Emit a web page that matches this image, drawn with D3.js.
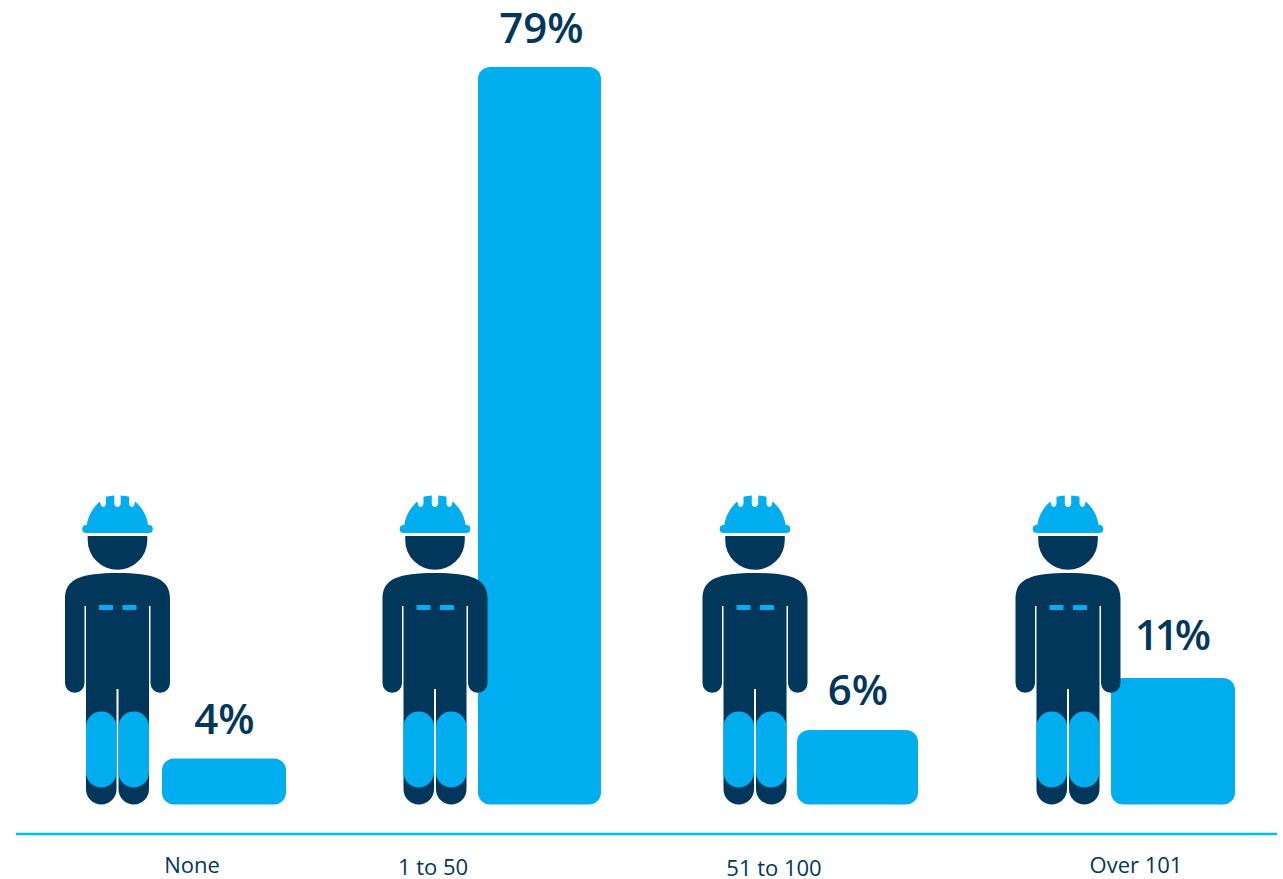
<!DOCTYPE html>
<html>
<head>
<meta charset="utf-8">
<style>
  html, body { margin: 0; padding: 0; background: #fff; }
  svg { display: block; }
  text { font-family: "Open Sans", "Noto Sans", sans-serif; }
</style>
<script src="https://cdn.jsdelivr.net/npm/d3@7/dist/d3.min.js"></script>
</head>
<body>
<svg id="chart" width="1283" height="879"></svg>
<script>
// Share of respondents by headcount band
const categories = ["None", "1 to 50", "51 to 100", "Over 101"];
const shares = [4, 79, 6, 11];
const shareLabels = ["4%", "79%", "6%", "11%"];

// Horizontal layout of each band
const barLefts = [162, 478, 797, 1111];
const barRights = [286, 601, 918, 1235];
const figureCentres = [117.5, 435, 755, 1068];
const shareLabelCentres = [224.5, 541.5, 858, 1171];
const shareLabelGaps = [25, 24, 25, 28];
const shareLabelTracking = [0, 0, 0, -4];
const categoryLabelCentres = [192, 433, 774, 1136];
const categoryBaselines = [873, 875, 876, 873];

const navy = "#01375b";
const cyan = "#00aeef";
const ruleCyan = "#00bdf6";

const svg = d3.select("#chart");
const left = d3.scaleOrdinal(categories, barLefts);
const right = d3.scaleOrdinal(categories, barRights);
const figureX = d3.scaleOrdinal(categories, figureCentres);
const shareX = d3.scaleOrdinal(categories, shareLabelCentres);
const shareGap = d3.scaleOrdinal(categories, shareLabelGaps);
const shareTracking = d3.scaleOrdinal(categories, shareLabelTracking);
const categoryX = d3.scaleOrdinal(categories, categoryLabelCentres);
const categoryY = d3.scaleOrdinal(categories, categoryBaselines);

// The bars are not to a single linear scale: small shares are drawn larger
const y = d3.scaleLinear().domain([0, 4, 6, 11, 79]).range([804.5, 758.5, 730, 678, 67]);

const rows = categories.map((c, i) => ({ category: c, share: shares[i], label: shareLabels[i] }));

// Hard-hat worker, origin at the foot line on the body's centre axis
const defs = svg.append("defs");
const worker = defs.append("g").attr("id", "worker");
worker.append("path").attr("fill", cyan).attr("d",
  "M-30.8,-277 C-30.4,-287 -25,-297 -17.5,-303 C-17,-299 -16,-297.6 -14.5,-297.6 C-12.8,-297.6 -11.7,-299 -11.5,-301" +
  "L-11.5,-307.8 C-9,-308.4 -6,-308.7 -3.2,-308.9 L-3.2,-301 C-3.2,-298.8 -1.6,-297.6 0,-297.6 C1.6,-297.6 3.2,-298.8 3.2,-301 L3.2,-308.9" +
  "C6,-308.7 9,-308.4 11.5,-307.8 L11.5,-301 C11.7,-299 12.8,-297.6 14.5,-297.6 C16,-297.6 17,-299 17.5,-303" +
  "C25,-297 30.4,-287 30.8,-277 Z");
worker.append("rect").attr("fill", cyan)
  .attr("x", -35.3).attr("y", -279.5).attr("width", 70.6).attr("height", 8).attr("rx", 4);
worker.append("path").attr("fill", navy)
  .attr("d", "M-29.8,-268.5 V-264.5 A29.8,29.8 0 0 0 29.8,-264.5 V-268.5 Z");
worker.append("path").attr("fill", navy).attr("d",
  "M-52.5,-206 C-52.5,-226 -36,-231.5 0,-231.5 C36,-231.5 52.5,-226 52.5,-206 V-121.5" +
  "A9.75,9.75 0 0 1 33,-121.5 V-198.5 H31.5 V-15.3 A15.25,15.25 0 0 1 1,-15.3 V-115.5 H-1 V-15.3" +
  "A15.25,15.25 0 0 1 -31.5,-15.3 V-198.5 H-33 V-121.5 A9.75,9.75 0 0 1 -52.5,-121.5 Z");
worker.append("rect").attr("fill", cyan)
  .attr("x", -18.5).attr("y", -199.5).attr("width", 14).attr("height", 5);
worker.append("rect").attr("fill", cyan)
  .attr("x", 5).attr("y", -199.5).attr("width", 14).attr("height", 5);
worker.append("rect").attr("fill", cyan)
  .attr("x", -31.5).attr("y", -93).attr("width", 30.5).attr("height", 76).attr("rx", 15.25);
worker.append("rect").attr("fill", cyan)
  .attr("x", 1).attr("y", -93).attr("width", 30.5).attr("height", 76).attr("rx", 15.25);

// Bars
svg.append("g").selectAll("rect").data(rows).join("rect")
  .attr("x", d => left(d.category))
  .attr("y", d => y(d.share))
  .attr("width", d => right(d.category) - left(d.category))
  .attr("height", d => y(0) - y(d.share))
  .attr("rx", 12)
  .attr("fill", cyan);

// One worker per band, in front of its bar
svg.append("g").selectAll("use").data(rows).join("use")
  .attr("href", "#worker")
  .attr("transform", d => `translate(${figureX(d.category)},${y(0)})`);

// Share labels above the bars
svg.append("g").selectAll("text").data(rows).join("text")
  .attr("x", d => shareX(d.category))
  .attr("y", d => y(d.share) - shareGap(d.category))
  .attr("text-anchor", "middle")
  .attr("font-size", 42)
  .attr("font-weight", 600)
  .attr("letter-spacing", d => shareTracking(d.category))
  .attr("fill", navy)
  .text(d => d.label);

// Baseline rule
svg.append("line")
  .attr("x1", 16).attr("x2", 1277)
  .attr("y1", 834).attr("y2", 834)
  .attr("stroke", ruleCyan).attr("stroke-width", 2.5);

// Band names
svg.append("g").selectAll("text").data(rows).join("text")
  .attr("x", d => categoryX(d.category))
  .attr("y", d => categoryY(d.category))
  .attr("text-anchor", "middle")
  .attr("font-size", 22)
  .attr("fill", navy)
  .text(d => d.category);
</script>
</body>
</html>
